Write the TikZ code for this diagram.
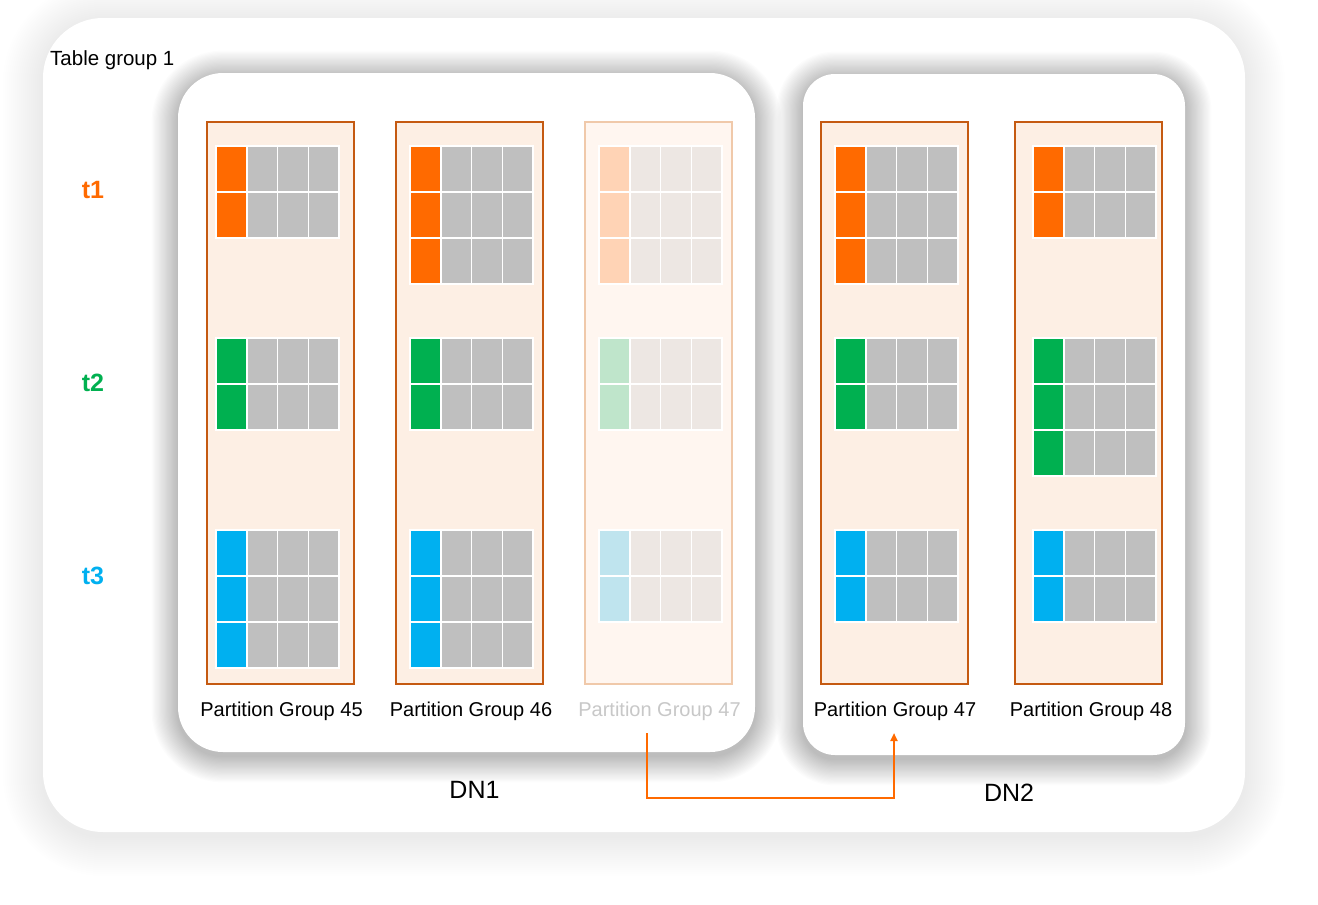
\documentclass[tikz,border=0pt]{standalone}
\usepackage{fontspec}
\setmainfont{Liberation Sans}
\usetikzlibrary{arrows.meta}
\definecolor{cOr}{HTML}{FF6A00}
\definecolor{cGr}{HTML}{00B050}
\definecolor{cBl}{HTML}{00B0F0}
\definecolor{cGy}{HTML}{BFBFBF}
\definecolor{cPf}{HTML}{FDEFE4}
\definecolor{cPb}{HTML}{C55A11}
\definecolor{fOr}{HTML}{FFD3B5}
\definecolor{fGr}{HTML}{BFE5CB}
\definecolor{fBl}{HTML}{BFE4EE}
\definecolor{fGy}{HTML}{EDE7E3}
\definecolor{fPf}{HTML}{FFF6F0}
\definecolor{fPb}{HTML}{F0C9AA}
\definecolor{fTx}{HTML}{C8C8C8}
\newcommand{\pgrid}[5]{%
  \foreach \r in {1,...,#3}{%
    \foreach \c in {0,...,3}{%
      \filldraw[fill=#5,draw=white,line width=1.5] ({#1+\c*30.75},{#2+(\r-1)*46}) rectangle ++(30.75,46);
    }%
    \filldraw[fill=#4,draw=white,line width=1.5] ({#1},{#2+(\r-1)*46}) rectangle ++(30.75,46);
  }%
}
\newcommand{\softshadow}[8]{% x1,y1,x2,y2,radius,steps,opacity,step
  \foreach \i in {1,...,#6}{%
    \pgfmathsetmacro\rr{#5+\i*#8}
    \fill[black,opacity=#7,rounded corners=\rr] ({#1-\i*#8},{#2-\i*#8+4}) rectangle ({#3+\i*#8},{#4+\i*#8+4});
  }%
}
\tikzset{
  part/.style={draw=cPb,fill=cPf,line width=1.1,minimum width=147,minimum height=562,inner sep=0},
  fpart/.style={draw=fPb,fill=fPf,line width=1.1,minimum width=147,minimum height=562,inner sep=0},
  plabel/.style={font=\fontsize{20}{22}\selectfont,inner sep=0},
  tlabel/.style={font=\fontsize{25}{27}\selectfont\bfseries,inner sep=0},
  dnlabel/.style={font=\fontsize{25}{27}\selectfont,inner sep=0},
  mover/.style={draw=cOr,line width=2.2,-{Triangle[width=7,length=8]}}
}
\begin{document}
\begin{tikzpicture}[x=1pt,y=-1pt]
\useasboundingbox[fill=white] (0,0) rectangle (1318,905);
% outer table group
\softshadow{43}{18}{1245}{832}{60}{20}{0.003}{2}
\fill[white,rounded corners=60] (43,18) rectangle (1245,832);
\node[anchor=west,font=\fontsize{20.5}{22}\selectfont,inner sep=0] (tg) at (50,60) {Table group 1};
% DN boxes
\softshadow{178}{73}{755}{752}{45}{22}{0.012}{1.2}
\softshadow{803}{74}{1185}{755}{32}{22}{0.012}{1.2}
\fill[white,rounded corners=45] (178,73) rectangle (755,752);
\fill[white,rounded corners=32] (803,74) rectangle (1185,755);
% row labels
\node[tlabel,text=cOr] (t1) at (93,190) {t1};
\node[tlabel,text=cGr] (t2) at (93,383) {t2};
\node[tlabel,text=cBl] (t3) at (93,576) {t3};
% partitions
\node[part] (p45) at (280.5,403) {};
\node[part] (p46) at (469.5,403) {};
\node[fpart] (p47f) at (658.5,403) {};
\node[part] (p47) at (894.5,403) {};
\node[part] (p48) at (1088.5,403) {};
% PG45
\pgrid{216}{146}{2}{cOr}{cGy}
\pgrid{216}{338}{2}{cGr}{cGy}
\pgrid{216}{530}{3}{cBl}{cGy}
% PG46
\pgrid{410}{146}{3}{cOr}{cGy}
\pgrid{410}{338}{2}{cGr}{cGy}
\pgrid{410}{530}{3}{cBl}{cGy}
% PG47 faded
\pgrid{599}{146}{3}{fOr}{fGy}
\pgrid{599}{338}{2}{fGr}{fGy}
\pgrid{599}{530}{2}{fBl}{fGy}
% PG47 DN2
\pgrid{835}{146}{3}{cOr}{cGy}
\pgrid{835}{338}{2}{cGr}{cGy}
\pgrid{835}{530}{2}{cBl}{cGy}
% PG48
\pgrid{1033}{146}{2}{cOr}{cGy}
\pgrid{1033}{338}{3}{cGr}{cGy}
\pgrid{1033}{530}{2}{cBl}{cGy}
% partition labels
\node[plabel] (l45) at (281.5,711) {Partition Group 45};
\node[plabel] (l46) at (471,711) {Partition Group 46};
\node[plabel,text=fTx] (l47f) at (659.5,711) {Partition Group 47};
\node[plabel] (l47) at (895,711) {Partition Group 47};
\node[plabel] (l48) at (1091,711) {Partition Group 48};
% DN labels
\node[dnlabel] (dn1) at (474.5,790) {DN1};
\node[dnlabel] (dn2) at (1009,793) {DN2};
% move arrow
\coordinate (mvs) at (647,733);
\coordinate (mve) at (894,733);
\draw[mover] (mvs) -- ++(0,65) -| (mve);
\end{tikzpicture}
\end{document}
